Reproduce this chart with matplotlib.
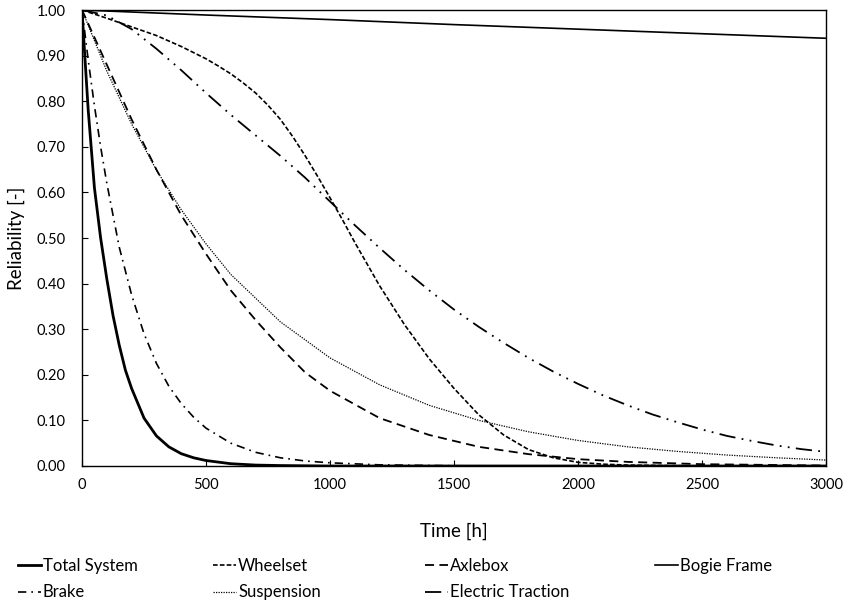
import matplotlib.pyplot as plt
import numpy as np

plt.rcParams['font.family'] = ['Lato', 'DejaVu Sans']

# Reliability curves of the bogie subsystems (time in hours)
t_total = [0, 10, 25, 50, 75, 100, 125, 150, 175, 200, 250, 300, 350, 400, 450, 500, 600, 700,
           800, 1000, 1500, 2000, 2500, 3000]
r_total = [1.0, 0.91, 0.78, 0.61, 0.50, 0.41, 0.33, 0.265, 0.21, 0.17, 0.105, 0.066, 0.042, 0.027,
           0.018, 0.012, 0.005, 0.002, 0.001, 0.0, 0.0, 0.0, 0.0, 0.0]

t_wheelset = [0, 100, 200, 300, 400, 500, 550, 600, 650, 700, 750, 800, 850, 900, 950, 1000,
              1050, 1100, 1200, 1300, 1400, 1500, 1600, 1700, 1800, 1900, 2000, 2100, 2200,
              2500, 3000]
r_wheelset = [1.0, 0.982, 0.963, 0.944, 0.92, 0.893, 0.877, 0.86, 0.84, 0.818, 0.791, 0.76,
              0.722, 0.68, 0.635, 0.588, 0.54, 0.49, 0.395, 0.31, 0.235, 0.17, 0.112, 0.068,
              0.036, 0.018, 0.008, 0.004, 0.002, 0.0, 0.0]

t_axlebox = [0, 100, 200, 300, 400, 500, 600, 700, 800, 900, 1000, 1200, 1400, 1600, 1800,
             2000, 2200, 2500, 3000]
r_axlebox = [1.0, 0.88, 0.76, 0.65, 0.55, 0.465, 0.385, 0.32, 0.26, 0.205, 0.165, 0.105, 0.068,
             0.042, 0.026, 0.015, 0.009, 0.004, 0.001]

t_bogie = [0, 500, 1000, 1500, 2000, 2500, 3000]
r_bogie = [1.0, 0.989, 0.979, 0.968, 0.958, 0.948, 0.938]

t_brake = [0, 25, 50, 75, 100, 150, 200, 250, 300, 350, 400, 450, 500, 600, 700, 800, 900, 1000,
           1200, 1500, 2000, 3000]
r_brake = [1.0, 0.89, 0.79, 0.70, 0.62, 0.48, 0.375, 0.29, 0.225, 0.175, 0.137, 0.107, 0.083,
           0.05, 0.03, 0.018, 0.011, 0.007, 0.0025, 0.0005, 0.0, 0.0]

t_susp = [0, 100, 200, 300, 400, 500, 600, 800, 1000, 1200, 1400, 1600, 1800, 2000, 2200,
          2400, 2600, 2800, 3000]
r_susp = [1.0, 0.866, 0.75, 0.649, 0.562, 0.487, 0.42, 0.316, 0.237, 0.178, 0.133, 0.10, 0.075,
          0.056, 0.042, 0.032, 0.024, 0.018, 0.013]

t_traction = [0, 100, 200, 300, 400, 500, 600, 700, 800, 900, 1000, 1100, 1200, 1300, 1400,
              1500, 1600, 1700, 1800, 1900, 2000, 2100, 2200, 2300, 2400, 2500, 2600, 2700,
              2800, 2900, 3000]
r_traction = [1.0, 0.988, 0.958, 0.915, 0.868, 0.818, 0.77, 0.725, 0.68, 0.632, 0.58, 0.528,
              0.478, 0.43, 0.385, 0.343, 0.305, 0.27, 0.237, 0.207, 0.18, 0.155, 0.133, 0.113,
              0.096, 0.08, 0.066, 0.055, 0.045, 0.037, 0.031]

fig = plt.figure(figsize=(8.43, 6.03), dpi=100)
ax = fig.add_axes([0.0973, 0.2272, 0.8827, 0.7562])

l_total, = ax.plot(t_total, r_total, color='black', lw=2.0, label='Total System')
l_wheel, = ax.plot(t_wheelset, r_wheelset, color='black', lw=1.2, dashes=(2.8, 1.3), label='Wheelset')
l_axle, = ax.plot(t_axlebox, r_axlebox, color='black', lw=1.3, dashes=(5, 3), label='Axlebox')
l_bogie, = ax.plot(t_bogie, r_bogie, color='black', lw=1.2, label='Bogie Frame')
l_brake, = ax.plot(t_brake, r_brake, color='black', lw=1.2, dashes=(5, 3, 1, 3), label='Brake')
l_susp, = ax.plot(t_susp, r_susp, color='black', lw=0.9, dashes=(1, 1), label='Suspension')
l_trac, = ax.plot(t_traction, r_traction, color='black', lw=1.3, dashes=(9, 3.5, 1, 3.5, 1, 3.5),
                  label='Electric Traction')

ax.set_xlim(0, 3000)
ax.set_ylim(0, 1.0)
ax.set_xticks(np.arange(0, 3001, 500))
ax.set_yticks(np.arange(0, 1.01, 0.1))
ax.set_yticklabels([f'{v:.2f}' for v in np.arange(0, 1.01, 0.1)])
ax.tick_params(direction='in', length=4, labelsize=10.5, colors='black')
ax.tick_params(axis='y', pad=12)
ax.tick_params(axis='x', pad=9)
for s in ax.spines.values():
    s.set_linewidth(1.0)

ax.set_xlabel('Time [h]', fontsize=13.5, labelpad=22)
ax.set_ylabel('Reliability [-]', fontsize=13.5, labelpad=8)

# one small legend per column so each column starts where it should
columns = [([l_total, l_brake], 18), ([l_wheel, l_susp], 213),
           ([l_axle, l_trac], 425), ([l_bogie], 655)]
for handles, x0 in columns:
    fig.legend(handles=handles, labels=[h.get_label() for h in handles],
               loc='upper left', bbox_to_anchor=(x0 / 843, 1 - 558 / 603), ncol=1,
               frameon=False, fontsize=12, handlelength=1.35, handletextpad=0.15,
               labelspacing=0.62, borderpad=0, borderaxespad=0)

fig.savefig('out.png', dpi=100)
